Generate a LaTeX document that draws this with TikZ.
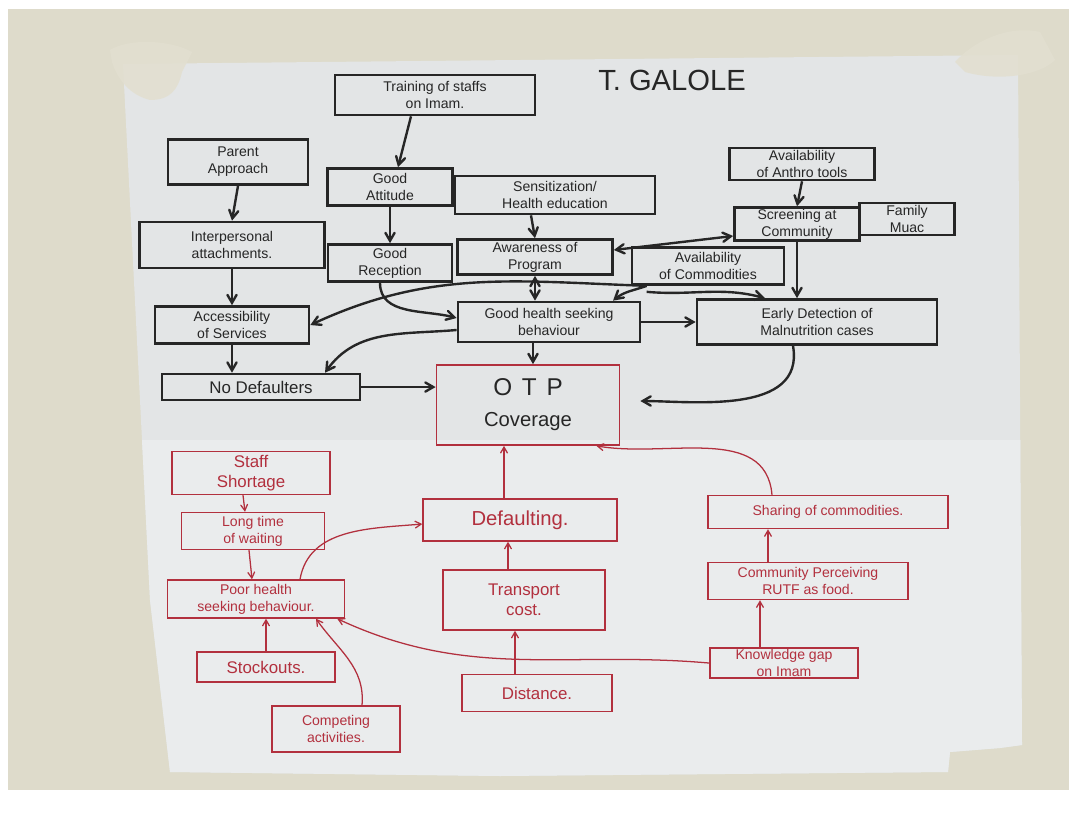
\documentclass[tikz,border=0pt]{standalone}
\usepackage{fontspec}
\setmainfont{Liberation Sans}
\usetikzlibrary{arrows}

\definecolor{wall}{RGB}{222,219,203}
\definecolor{paper}{RGB}{227,229,230}
\definecolor{paperlow}{RGB}{234,236,237}
\definecolor{tape}{RGB}{226,223,208}
\definecolor{ink}{RGB}{38,38,38}
\definecolor{redink}{RGB}{178,48,62}

\tikzstyle{blackbox} = [rectangle, draw=ink, line width=1.9pt, text=ink, align=center, inner sep=1pt, font=\normalsize]
\tikzstyle{redbox} = [rectangle, draw=redink, line width=1pt, text=redink, align=center, inner sep=1pt, font=\normalsize]
\tikzstyle{otpbox} = [rectangle, draw=redink, line width=1.2pt, text=ink, align=center]
\tikzstyle{arrow} = [line width=1.7pt, draw=ink, ->, >=angle 60]
\tikzstyle{redarrow} = [line width=0.9pt, draw=redink, ->, >=angle 60]

\begin{document}
\begin{tikzpicture}[x=0.025cm, y=-0.025cm, node distance=2cm]

% Wall and paper
\useasboundingbox (0,0) rectangle (1069,826);
\fill[white] (0,0) rectangle (1069,826);
\fill[wall] (8,9) rectangle (1069,790);
\fill[paper] (123,64) -- (1018,55) -- (1022,745) -- (1000,748) -- (950,752) -- (948,772) -- (500,776) -- (170,772) -- (150,600) -- (140,400) -- cycle;
\begin{scope}
\clip (123,64) -- (1018,55) -- (1022,745) -- (1000,748) -- (950,752) -- (948,772) -- (500,776) -- (170,772) -- (150,600) -- (140,400) -- cycle;
\fill[paperlow] (0,440) rectangle (1069,826);
\end{scope}
\fill[tape, opacity=0.9] (110,50) .. controls (130,38) and (170,40) .. (192,52) -- (182,72) .. controls (178,90) and (170,100) .. (150,100) .. controls (130,95) and (118,80) .. (112,62) -- cycle;
\fill[tape, opacity=0.9] (955,62) .. controls (975,40) and (1010,25) .. (1040,32) -- (1055,60) .. controls (1040,75) and (1000,82) .. (965,72) -- cycle;

% Title
\node (title) [text=ink, font=\huge] at (672,80) {T. GALOLE};

% Nodes (upper part)
\node (train) [blackbox, minimum width=5cm, minimum height=1cm] at (435,95) {Training of staffs\\on Imam.};
\node (parent) [blackbox, minimum width=3.5cm, minimum height=1.125cm] at (238,162) {Parent\\Approach};
\node (inter) [blackbox, below of=parent, xshift=-0.15cm, yshift=-0.075cm, minimum width=4.625cm, minimum height=1.15cm] {Interpersonal\\attachments.};
\node (access) [blackbox, below of=inter, minimum width=3.85cm, minimum height=0.925cm] {Accessibility\\of Services};
\node (nodef) [blackbox, below of=access, xshift=0.725cm, yshift=0.45cm, minimum width=4.95cm, minimum height=0.65cm, font=\large] {No Defaulters};
\node (attitude) [blackbox, minimum width=3.125cm, minimum height=0.925cm] at (390,187) {Good\\Attitude};
\node (reception) [blackbox, below of=attitude, yshift=0.1cm, minimum width=3.1cm, minimum height=0.925cm] {Good\\Reception};
\node (sensit) [blackbox, minimum width=5cm, minimum height=0.95cm] at (555,195) {Sensitization/\\Health education};
\node (aware) [blackbox, minimum width=3.875cm, minimum height=0.875cm] at (535,257) {Awareness of\\Program};
\node (anthro) [blackbox, minimum width=3.625cm, minimum height=0.8cm] at (802,164) {Availability\\of Anthro tools};
\node (screen) [blackbox, minimum width=3.125cm, minimum height=0.8cm] at (797,224) {Screening at\\Community};
\node (family) [blackbox, right of=screen, xshift=0.75cm, yshift=0.125cm, minimum width=2.375cm, minimum height=0.8cm] {Family\\Muac};
\node (commod) [blackbox, minimum width=3.8cm, minimum height=0.925cm] at (708,266) {Availability\\of Commodities};
\node (ghsb) [blackbox, minimum width=4.55cm, minimum height=1cm] at (549,322) {Good health seeking\\behaviour};
\node (early) [blackbox, minimum width=6cm, minimum height=1.125cm] at (817,322) {Early Detection of\\Malnutrition cases};
\node (otp) [otpbox, minimum width=4.575cm, minimum height=2cm] at (528,405) {{\LARGE O\hspace{0.4em}T\hspace{0.4em}P}\\[10pt]{\Large Coverage}};

% Nodes (lower part)
\node (staff) [redbox, minimum width=3.95cm, minimum height=1.075cm, font=\large] at (251,473) {Staff\\Shortage};
\node (wait) [redbox, minimum width=3.575cm, minimum height=0.925cm] at (253,531) {Long time\\of waiting};
\node (poor) [redbox, minimum width=4.425cm, minimum height=0.95cm] at (256,599) {Poor health\\seeking behaviour.};
\node (stock) [redbox, minimum width=3.45cm, minimum height=0.75cm, font=\large] at (266,667) {Stockouts.};
\node (compete) [redbox, minimum width=3.2cm, minimum height=1.15cm] at (336,729) {Competing\\activities.};
\node (default) [redbox, font=\Large, minimum width=4.85cm, minimum height=1.05cm] at (520,520) {Defaulting.};
\node (transport) [redbox, below of=default, xshift=0.1cm, minimum width=4.05cm, minimum height=1.5cm, font=\large] {Transport\\cost.};
\node (distance) [redbox, below of=transport, xshift=0.325cm, yshift=-0.325cm, minimum width=3.75cm, minimum height=0.925cm, font=\large] {Distance.};
\node (sharing) [redbox, minimum width=6cm, minimum height=0.825cm] at (828,512) {Sharing of commodities.};
\node (community) [redbox, below of=sharing, xshift=-0.5cm, yshift=0.275cm, minimum width=5cm, minimum height=0.925cm] {Community Perceiving\\RUTF as food.};
\node (knowledge) [redbox, below of=community, xshift=-0.6cm, yshift=-0.05cm, minimum width=3.7cm, minimum height=0.75cm] {Knowledge gap\\on Imam};

% Arrows (upper part)
\draw [arrow] ([xshift=-0.6cm]train.south) -- ([xshift=0.2cm]attitude.north);
\draw [arrow] (parent.south) -- (inter.north);
\draw [arrow] (attitude.south) -- (reception.north);
\draw [arrow] ([xshift=-0.6cm]sensit.south) -- (aware.north);
\draw [arrow] (anthro.south) -- (screen.north);
\draw [arrow] (inter.south) -- (access.north);
\draw [arrow] (access.south) -- (access.south |- nodef.north);
\draw [arrow] ([xshift=-0.25cm]reception.south) to[out=-90, in=165] ([yshift=0.1cm]ghsb.west);
\draw [arrow, <->] (aware.south) -- (aware.south |- ghsb.north);
\draw [arrow, <->] ([yshift=0.175cm]aware.east) -- ([yshift=-0.3cm]screen.west);
\draw [arrow] ([xshift=0.4cm]commod.south west) to[out=178, in=25] (access.east);
\draw [arrow] ([xshift=0.4cm]commod.south west) to[out=200, in=40] ([xshift=1.6cm]ghsb.north);
\draw [arrow] ([xshift=0.4cm, yshift=-0.15cm]commod.south west) to[out=-5, in=165] ([xshift=-1.3cm]early.north);
\draw [arrow] (ghsb.east) -- (early.west);
\draw [arrow] (screen.south) -- (screen.south |- early.north);
\draw [arrow] ([yshift=-0.2cm]ghsb.west) to[out=185, in=55] ([xshift=1.6cm]nodef.north);
\draw [arrow] ([xshift=-0.4cm]ghsb.south) -- ([xshift=-0.4cm]ghsb.south |- otp.north);
\draw [arrow] (nodef.east) -- (nodef.east -| otp.west);
\draw [arrow, shorten >=0.5cm] ([xshift=-0.6cm]early.south) to[out=-80, in=0] ([yshift=0.1cm]otp.east);

% Arrows (lower part)
\draw [redarrow] ([xshift=-0.2cm]staff.south) -- ([xshift=-0.2cm]wait.north);
\draw [redarrow] ([xshift=-0.1cm]wait.south) -- ([xshift=-0.1cm]poor.north);
\draw [redarrow] ([xshift=1.1cm]poor.north) to[out=80, in=185] ([yshift=-0.1cm]default.west);
\draw [redarrow] (stock.north) -- (stock.north |- poor.south);
\draw [redarrow] ([xshift=0.65cm]compete.north) to[out=85, in=-55] ([xshift=1.5cm]poor.south);
\draw [redarrow] (knowledge.west) to[out=175, in=-25] ([xshift=-0.2cm]poor.south east);
\draw [redarrow] ([xshift=-0.6cm]knowledge.north) -- ([xshift=-0.6cm]knowledge.north |- community.south);
\draw [redarrow] ([xshift=-1cm]community.north) -- ([xshift=-1cm]community.north |- sharing.south);
\draw [redarrow] ([xshift=-1.4cm]sharing.north) to[out=95, in=-10] ([xshift=-0.6cm]otp.south east);
\draw [redarrow] ([xshift=-0.4cm]default.north) -- ([xshift=-0.4cm]default.north |- otp.south);
\draw [redarrow] ([xshift=-0.4cm]transport.north) -- ([xshift=-0.4cm]transport.north |- default.south);
\draw [redarrow] ([xshift=-0.55cm]distance.north) -- ([xshift=-0.55cm]distance.north |- transport.south);

\end{tikzpicture}
\end{document}
